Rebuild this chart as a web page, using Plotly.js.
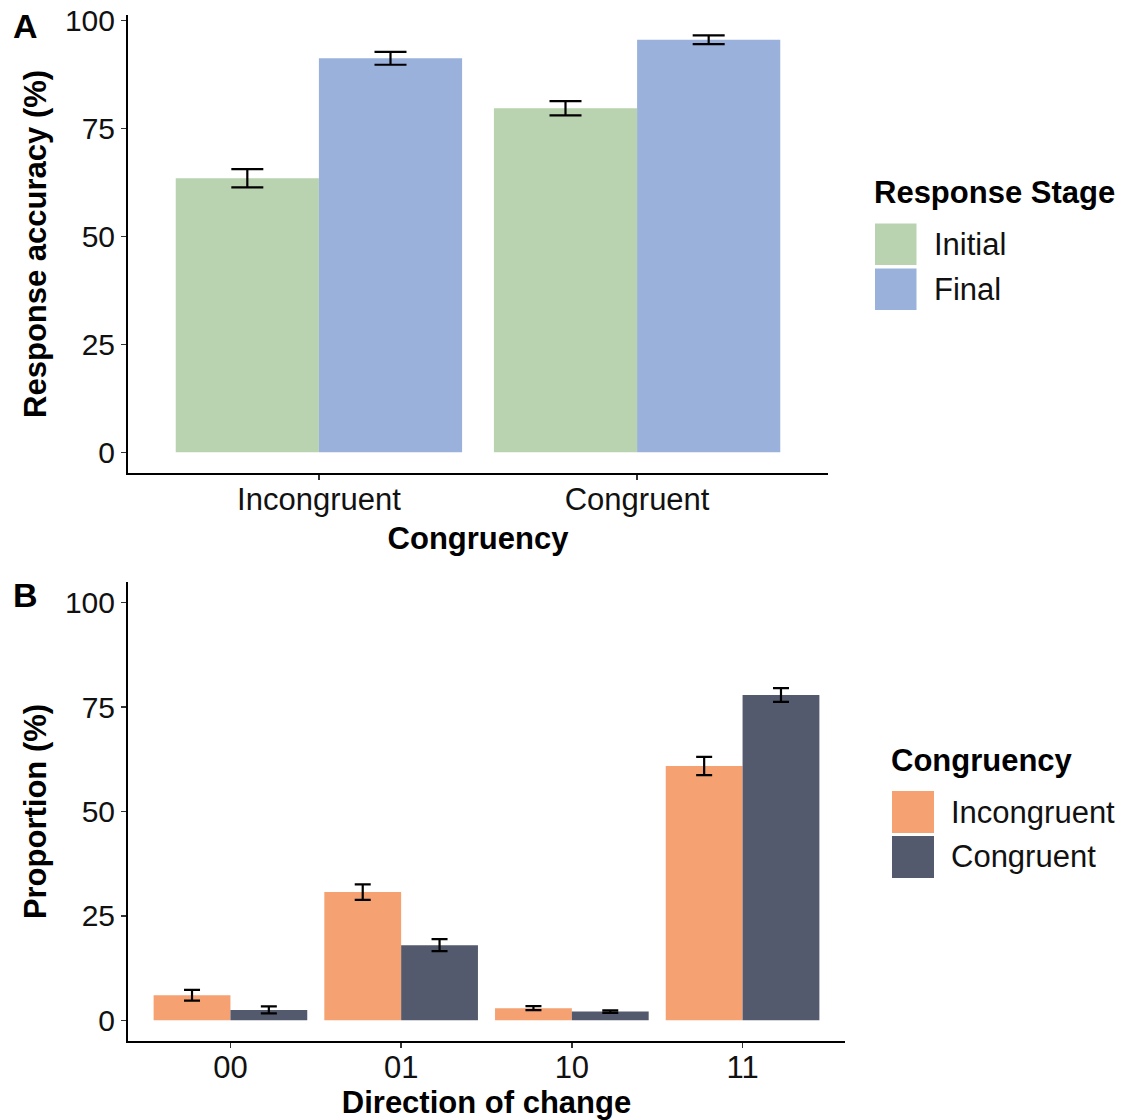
<!DOCTYPE html>
<html>
<head>
<meta charset="utf-8">
<script src="https://cdn.plot.ly/plotly-3.0.1.min.js"></script>
<style>html,body{margin:0;padding:0;background:#fff;}#chart{width:1124px;height:1120px;}</style>
</head>
<body>
<div id="chart"></div>
<script>
// ---- Panel A data ----
const congruencyCats = ['Incongruent', 'Congruent'];
const stageNames = ['Initial', 'Final'];
const accInitial = [63.5, 79.7];
const accInitialErr = [2.1, 1.65];
const accFinal = [91.3, 95.6];
const accFinalErr = [1.5, 1.0];

// ---- Panel B data ----
const directionCats = ['00', '01', '10', '11'];
const congruencyNames = ['Incongruent', 'Congruent'];
const propIncongruent = [6.0, 30.7, 2.9, 60.9];
const propIncongruentErr = [1.27, 1.84, 0.48, 2.2];
const propCongruent = [2.5, 18.0, 2.1, 77.9];
const propCongruentErr = [0.84, 1.43, 0.3, 1.63];

const yTicks = [0, 25, 50, 75, 100];

// ---- styles ----
const colInitial = '#B9D3B1';
const colFinal = '#9AB1DC';
const colIncong = '#F5A172';
const colCong = '#545A6D';
const FONT = '"Liberation Sans", Arial, sans-serif';
const W = 1124, H = 1120;
const px = v => v / W;
const py = v => 1 - v / H;

function errBar(arr, w) {
  return {type: 'data', array: arr, visible: true, color: '#000', thickness: 2.2, width: w};
}

const traces = [
  {type: 'bar', x: congruencyCats, y: accInitial, name: stageNames[0], xaxis: 'x', yaxis: 'y',
   marker: {color: colInitial, line: {width: 0}}, error_y: errBar(accInitialErr, 16), showlegend: false},
  {type: 'bar', x: congruencyCats, y: accFinal, name: stageNames[1], xaxis: 'x', yaxis: 'y',
   marker: {color: colFinal, line: {width: 0}}, error_y: errBar(accFinalErr, 16), showlegend: false},
  {type: 'bar', x: directionCats, y: propIncongruent, name: congruencyNames[0], xaxis: 'x2', yaxis: 'y2',
   marker: {color: colIncong, line: {width: 0}}, error_y: errBar(propIncongruentErr, 8), showlegend: false},
  {type: 'bar', x: directionCats, y: propCongruent, name: congruencyNames[1], xaxis: 'x2', yaxis: 'y2',
   marker: {color: colCong, line: {width: 0}}, error_y: errBar(propCongruentErr, 8), showlegend: false}
];

const axisCommon = {
  showline: true, linecolor: '#000', linewidth: 2,
  ticks: 'outside', ticklen: 5, tickwidth: 1.5, tickcolor: '#333',
  showgrid: false, zeroline: false, automargin: false, fixedrange: true
};
const xTickFont = {family: FONT, size: 31, color: '#111'};
const yTickFont = {family: FONT, size: 30, color: '#111'};
const titleFont = {family: FONT, size: 31, color: '#000', weight: 'bold'};

const layout = {
  width: W, height: H,
  margin: {l: 0, r: 0, t: 0, b: 0, pad: 0},
  paper_bgcolor: '#fff', plot_bgcolor: '#fff',
  barmode: 'group', bargap: 0.1, bargroupgap: 0,
  showlegend: false,
  font: {family: FONT, color: '#000'},
  xaxis: Object.assign({}, axisCommon, {
    domain: [px(128), px(828)], anchor: 'y', type: 'category', range: [-0.6, 1.6],
    tickfont: xTickFont, ticklabelstandoff: -7,
    title: {text: 'Congruency', font: titleFont, standoff: 11}
  }),
  yaxis: Object.assign({}, axisCommon, {
    domain: [py(473.1), py(14.7)], anchor: 'x', range: [-4.83, 101.4], tickvals: yTicks,
    tickfont: yTickFont, ticklabelstandoff: 0,
    title: {text: 'Response accuracy (%)', font: titleFont, standoff: 9}
  }),
  xaxis2: Object.assign({}, axisCommon, {
    domain: [px(128), px(845)], anchor: 'y2', type: 'category', range: [-0.6, 3.6],
    tickfont: xTickFont, ticklabelstandoff: -7,
    title: {text: 'Direction of change', font: titleFont, standoff: 18}
  }),
  yaxis2: Object.assign({}, axisCommon, {
    domain: [py(1041.2), py(581.8)], anchor: 'x2', range: [-5, 105], tickvals: yTicks,
    tickfont: yTickFont, ticklabelstandoff: 0,
    title: {text: 'Proportion (%)', font: titleFont, standoff: 9}
  }),
  shapes: [],
  annotations: [
    {text: 'A', x: px(11), y: py(26), xref: 'paper', yref: 'paper', xanchor: 'left', yanchor: 'middle',
     showarrow: false, font: {family: FONT, size: 34, color: '#000', weight: 'bold'}},
    {text: 'B', x: px(11), y: py(595), xref: 'paper', yref: 'paper', xanchor: 'left', yanchor: 'middle',
     showarrow: false, font: {family: FONT, size: 34, color: '#000', weight: 'bold'}}
  ]
};

// manual legends (large keys like the reference)
function addLegend(title, names, colors, left, titleY, keyTops, keySize) {
  layout.annotations.push({text: title, x: px(left - 2), y: py(titleY), xref: 'paper', yref: 'paper',
    xanchor: 'left', yanchor: 'middle', showarrow: false, font: titleFont});
  names.forEach((n, i) => {
    const t = keyTops[i];
    layout.shapes.push({type: 'rect', xref: 'paper', yref: 'paper',
      x0: px(left + 1), x1: px(left + 1 + keySize), y0: py(t), y1: py(t + keySize),
      fillcolor: colors[i], line: {width: 0}});
    layout.annotations.push({text: n, x: px(left + keySize + 16), y: py(t + keySize / 2),
      xref: 'paper', yref: 'paper', xanchor: 'left', yanchor: 'middle', showarrow: false,
      font: {family: FONT, size: 31, color: '#111'}});
  });
}
addLegend('Response Stage', stageNames, [colInitial, colFinal], 874, 192, [223.5, 268.5], 41.5);
addLegend('Congruency', congruencyNames, [colIncong, colCong], 891, 760, [791, 836], 42);

Plotly.newPlot('chart', traces, layout, {staticPlot: true, displayModeBar: false});
</script>
</body>
</html>
